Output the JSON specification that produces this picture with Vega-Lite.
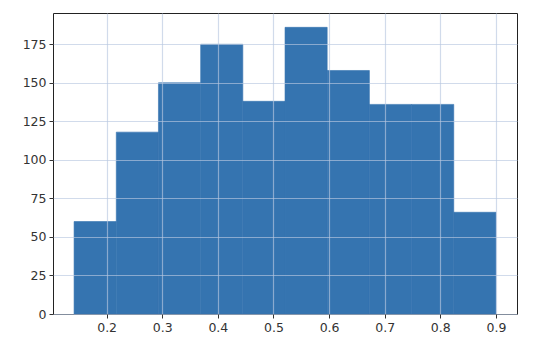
{
  "$schema": "https://vega.github.io/schema/vega-lite/v6.json",
  "autosize": "none",
  "width": 464,
  "height": 301,
  "padding": {"left": 53, "top": 13, "right": 23, "bottom": 31},
  "background": "white",
  "config": {
    "view": {"stroke": "#222222", "strokeWidth": 1},
    "axis": {
      "labelFont": "DejaVu Sans",
      "labelFontSize": 12.5,
      "labelColor": "#333333",
      "tickColor": "#333333",
      "tickSize": 4,
      "tickWidth": 1,
      "domain": false,
      "grid": true,
      "gridColor": "#b8c8e0",
      "gridWidth": 1.2,
      "gridOpacity": 0.65,
      "labelPadding": 3,
      "title": null
    }
  },
  "data": {
    "values": [
      {"bin_start": 0.1415, "bin_end": 0.2174, "count": 60},
      {"bin_start": 0.2174, "bin_end": 0.2932, "count": 118},
      {"bin_start": 0.2932, "bin_end": 0.3691, "count": 150},
      {"bin_start": 0.3691, "bin_end": 0.4449, "count": 175},
      {"bin_start": 0.4449, "bin_end": 0.5208, "count": 138},
      {"bin_start": 0.5208, "bin_end": 0.5966, "count": 186},
      {"bin_start": 0.5966, "bin_end": 0.6725, "count": 158},
      {"bin_start": 0.6725, "bin_end": 0.7483, "count": 136},
      {"bin_start": 0.7483, "bin_end": 0.8242, "count": 136},
      {"bin_start": 0.8242, "bin_end": 0.9000, "count": 66}
    ]
  },
  "mark": {"type": "rect", "color": "#3574b0", "stroke": "#3574b0", "strokeWidth": 0.6},
  "encoding": {
    "x": {
      "field": "bin_start",
      "type": "quantitative",
      "scale": {"domain": [0.1036, 0.9379], "nice": false, "zero": false},
      "axis": {"values": [0.2, 0.3, 0.4, 0.5, 0.6, 0.7, 0.8, 0.9], "format": ".1f", "labelFlush": false, "zindex": 1}
    },
    "x2": {"field": "bin_end"},
    "y": {
      "field": "count",
      "type": "quantitative",
      "scale": {"domain": [0, 195.3], "nice": false},
      "axis": {"values": [0, 25, 50, 75, 100, 125, 150, 175], "labelFlush": false, "zindex": 1}
    },
    "y2": {"datum": 0}
  }
}
